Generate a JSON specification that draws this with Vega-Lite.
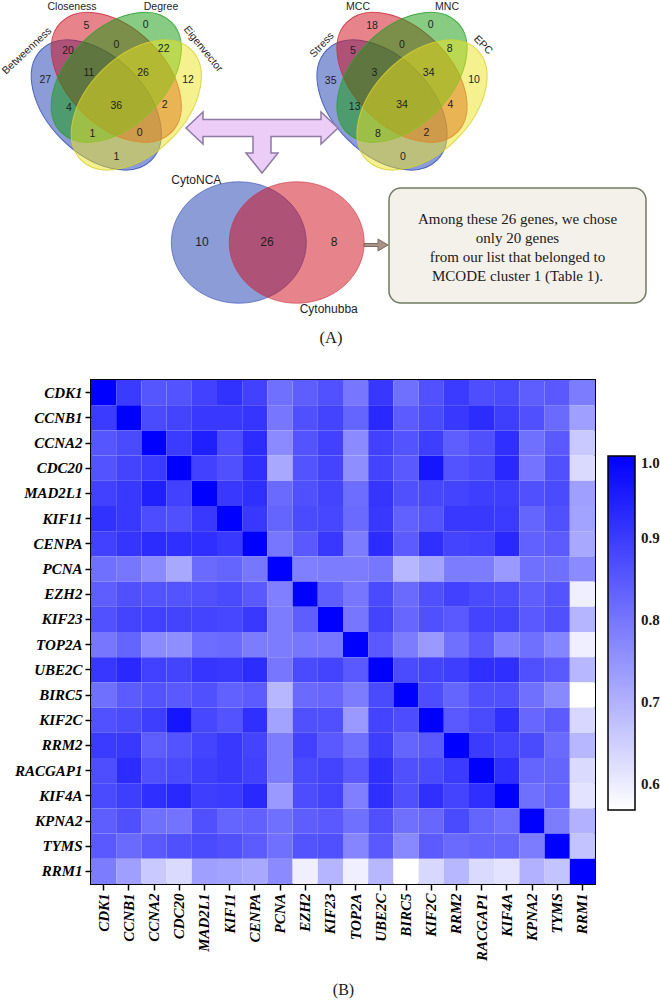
{
  "$schema": "https://vega.github.io/schema/vega-lite/v6.json",
  "padding": 0,
  "spacing": 29,
  "background": "white",
  "config": {"font": "Liberation Sans"},
  "vconcat": [
    {
      "width": 572,
      "height": 350,
      "view": {"stroke": null},
      "layer": [
        {
          "data": {"values": [
            {"diagram": "CytoNCA", "set": "Betweenness", "x": 93.3, "y": 105},
            {"diagram": "CytoNCA", "set": "Closeness", "x": 113.3, "y": 77.3},
            {"diagram": "Cytohubba", "set": "Stress", "x": 379, "y": 105},
            {"diagram": "Cytohubba", "set": "MCC", "x": 399, "y": 77.3}
          ]},
          "mark": {"type": "point", "shape": "M 1 0 C 1 0.3446 0.5523 0.624 0 0.624 C -0.5523 0.624 -1 0.3446 -1 0 C -1 -0.3446 -0.5523 -0.624 0 -0.624 C 0.5523 -0.624 1 -0.3446 1 0 Z", "size": 24336, "angle": 45, "filled": true, "opacity": 1, "fillOpacity": 0.5, "strokeWidth": 1, "strokeOpacity": 0.85},
          "encoding": {
            "x": {"field": "x", "type": "quantitative", "scale": {"domain": [88, 660], "nice": false, "zero": false}, "axis": null},
            "y": {"field": "y", "type": "quantitative", "scale": {"domain": [0, 350], "nice": false, "zero": false, "reverse": true}, "axis": null},
            "color": {"field": "set", "type": "nominal", "scale": {"domain": ["Betweenness", "Closeness", "Degree", "Eigenvector", "Stress", "MCC", "MNC", "EPC", "CytoNCA", "Cytohubba"], "range": ["#1a3aae", "#cf0a18", "#12990a", "#ece41e", "#1a3aae", "#cf0a18", "#12990a", "#ece41e", "#1a3aae", "#cf0a18"]}, "legend": null},
            "stroke": {"field": "set", "type": "nominal", "scale": {"domain": ["Betweenness", "Closeness", "Degree", "Eigenvector", "Stress", "MCC", "MNC", "EPC", "CytoNCA", "Cytohubba"], "range": ["#3550bb", "#cc3040", "#30a030", "#d8d030", "#3550bb", "#cc3040", "#30a030", "#d8d030", "#3550bb", "#cc3040"]}, "legend": null}
          }
        },
        {
          "data": {"values": [
            {"diagram": "CytoNCA", "set": "Degree", "x": 113.3, "y": 77.3},
            {"diagram": "CytoNCA", "set": "Eigenvector", "x": 133.3, "y": 105},
            {"diagram": "Cytohubba", "set": "MNC", "x": 399, "y": 77.3},
            {"diagram": "Cytohubba", "set": "EPC", "x": 419, "y": 105}
          ]},
          "mark": {"type": "point", "shape": "M 1 0 C 1 0.3446 0.5523 0.624 0 0.624 C -0.5523 0.624 -1 0.3446 -1 0 C -1 -0.3446 -0.5523 -0.624 0 -0.624 C 0.5523 -0.624 1 -0.3446 1 0 Z", "size": 24336, "angle": -45, "filled": true, "opacity": 1, "fillOpacity": 0.5, "strokeWidth": 1, "strokeOpacity": 0.85},
          "encoding": {
            "x": {"field": "x", "type": "quantitative", "scale": {"domain": [88, 660], "nice": false, "zero": false}, "axis": null},
            "y": {"field": "y", "type": "quantitative", "scale": {"domain": [0, 350], "nice": false, "zero": false, "reverse": true}, "axis": null},
            "color": {"field": "set", "type": "nominal", "scale": {"domain": ["Betweenness", "Closeness", "Degree", "Eigenvector", "Stress", "MCC", "MNC", "EPC", "CytoNCA", "Cytohubba"], "range": ["#1a3aae", "#cf0a18", "#12990a", "#ece41e", "#1a3aae", "#cf0a18", "#12990a", "#ece41e", "#1a3aae", "#cf0a18"]}, "legend": null},
            "stroke": {"field": "set", "type": "nominal", "scale": {"domain": ["Betweenness", "Closeness", "Degree", "Eigenvector", "Stress", "MCC", "MNC", "EPC", "CytoNCA", "Cytohubba"], "range": ["#3550bb", "#cc3040", "#30a030", "#d8d030", "#3550bb", "#cc3040", "#30a030", "#d8d030", "#3550bb", "#cc3040"]}, "legend": null}
          }
        },
        {
          "data": {"values": [
            {"set": "CytoNCA", "x": 235.8, "y": 242.5},
            {"set": "Cytohubba", "x": 293.7, "y": 242.5}
          ]},
          "mark": {"type": "point", "shape": "M 1 0 C 1 0.497 0.5523 0.9 0 0.9 C -0.5523 0.9 -1 0.497 -1 0 C -1 -0.497 -0.5523 -0.9 0 -0.9 C 0.5523 -0.9 1 -0.497 1 0 Z", "size": 18225, "filled": true, "opacity": 1, "fillOpacity": 0.5, "strokeWidth": 1, "strokeOpacity": 0.6},
          "encoding": {
            "x": {"field": "x", "type": "quantitative", "scale": {"domain": [88, 660], "nice": false, "zero": false}, "axis": null},
            "y": {"field": "y", "type": "quantitative", "scale": {"domain": [0, 350], "nice": false, "zero": false, "reverse": true}, "axis": null},
            "color": {"field": "set", "type": "nominal", "scale": {"domain": ["Betweenness", "Closeness", "Degree", "Eigenvector", "Stress", "MCC", "MNC", "EPC", "CytoNCA", "Cytohubba"], "range": ["#1a3aae", "#cf0a18", "#12990a", "#ece41e", "#1a3aae", "#cf0a18", "#12990a", "#ece41e", "#1a3aae", "#cf0a18"]}, "legend": null},
            "stroke": {"field": "set", "type": "nominal", "scale": {"domain": ["Betweenness", "Closeness", "Degree", "Eigenvector", "Stress", "MCC", "MNC", "EPC", "CytoNCA", "Cytohubba"], "range": ["#3550bb", "#cc3040", "#30a030", "#d8d030", "#3550bb", "#cc3040", "#30a030", "#d8d030", "#3550bb", "#cc3040"]}, "legend": null}
          }
        },
        {
          "data": {"values": [
            {"region": "Betweenness only", "x": 42.3, "y": 80, "count": 27},
            {"region": "Closeness only", "x": 83.3, "y": 26, "count": 5},
            {"region": "Degree only", "x": 142.7, "y": 25, "count": 0},
            {"region": "Eigenvector only", "x": 185, "y": 80, "count": 12},
            {"region": "Betweenness+Closeness", "x": 65, "y": 50.7, "count": 20},
            {"region": "Closeness+Degree", "x": 113.3, "y": 45, "count": 0},
            {"region": "Degree+Eigenvector", "x": 160.7, "y": 49.3, "count": 22},
            {"region": "Betweenness+Closeness+Degree", "x": 86, "y": 72.7, "count": 11},
            {"region": "Closeness+Degree+Eigenvector", "x": 140, "y": 73.3, "count": 26},
            {"region": "Betweenness+Degree", "x": 66, "y": 108.3, "count": 4},
            {"region": "All four", "x": 113.3, "y": 106, "count": 36},
            {"region": "Closeness+Eigenvector", "x": 161.7, "y": 105, "count": 2},
            {"region": "Betweenness+Degree+Eigenvector", "x": 89.3, "y": 134.3, "count": 1},
            {"region": "Betweenness+Closeness+Eigenvector", "x": 136.7, "y": 133.3, "count": 0},
            {"region": "Betweenness+Eigenvector", "x": 113.3, "y": 156.7, "count": 1},
            {"region": "Stress only", "x": 327.7, "y": 80.7, "count": 35},
            {"region": "MCC only", "x": 369, "y": 26, "count": 18},
            {"region": "MNC only", "x": 427.7, "y": 25, "count": 0},
            {"region": "EPC only", "x": 471, "y": 80, "count": 10},
            {"region": "Stress+MCC", "x": 350, "y": 50.7, "count": 5},
            {"region": "MCC+MNC", "x": 399, "y": 45, "count": 0},
            {"region": "MNC+EPC", "x": 446.7, "y": 49.3, "count": 8},
            {"region": "Stress+MCC+MNC", "x": 371.3, "y": 72.7, "count": 3},
            {"region": "MCC+MNC+EPC", "x": 425.7, "y": 73.3, "count": 34},
            {"region": "Stress+MNC", "x": 351.7, "y": 106.7, "count": 13},
            {"region": "All four (Cytohubba)", "x": 399, "y": 105.3, "count": 34},
            {"region": "MCC+EPC", "x": 447.3, "y": 105, "count": 4},
            {"region": "Stress+MNC+EPC", "x": 375, "y": 134.3, "count": 8},
            {"region": "Stress+MCC+EPC", "x": 423.3, "y": 133.3, "count": 2},
            {"region": "Stress+EPC", "x": 400, "y": 157.3, "count": 0}
          ]},
          "mark": {"type": "text", "fontSize": 10.5, "color": "#1e1e1e", "baseline": "middle", "align": "center"},
          "encoding": {
            "x": {"field": "x", "type": "quantitative", "scale": {"domain": [88, 660], "nice": false, "zero": false}, "axis": null},
            "y": {"field": "y", "type": "quantitative", "scale": {"domain": [0, 350], "nice": false, "zero": false, "reverse": true}, "axis": null},
            "text": {"field": "count", "type": "quantitative"}
          }
        },
        {
          "data": {"values": [
            {"region": "CytoNCA only", "x": 199, "y": 242, "count": 10},
            {"region": "Both", "x": 264, "y": 242, "count": 26},
            {"region": "Cytohubba only", "x": 331, "y": 242, "count": 8}
          ]},
          "mark": {"type": "text", "fontSize": 12, "color": "#1e1e1e", "baseline": "middle", "align": "center"},
          "encoding": {
            "x": {"field": "x", "type": "quantitative", "scale": {"domain": [88, 660], "nice": false, "zero": false}, "axis": null},
            "y": {"field": "y", "type": "quantitative", "scale": {"domain": [0, 350], "nice": false, "zero": false, "reverse": true}, "axis": null},
            "text": {"field": "count", "type": "quantitative"}
          }
        },
        {
          "data": {"values": [
            {"label": "Closeness", "x": 69, "y": 6.5},
            {"label": "Degree", "x": 158, "y": 6.5},
            {"label": "MCC", "x": 355, "y": 6.5},
            {"label": "MNC", "x": 444, "y": 6.5}
          ]},
          "mark": {"type": "text", "fontSize": 10.5, "color": "#1e1e1e", "baseline": "middle", "align": "center"},
          "encoding": {
            "x": {"field": "x", "type": "quantitative", "scale": {"domain": [88, 660], "nice": false, "zero": false}, "axis": null},
            "y": {"field": "y", "type": "quantitative", "scale": {"domain": [0, 350], "nice": false, "zero": false, "reverse": true}, "axis": null},
            "text": {"field": "label", "type": "nominal"}
          }
        },
        {
          "data": {"values": [
            {"label": "CytoNCA", "x": 193.3, "y": 180},
            {"label": "Cytohubba", "x": 325.7, "y": 309.3}
          ]},
          "mark": {"type": "text", "fontSize": 12, "color": "#1e1e1e", "baseline": "middle", "align": "center"},
          "encoding": {
            "x": {"field": "x", "type": "quantitative", "scale": {"domain": [88, 660], "nice": false, "zero": false}, "axis": null},
            "y": {"field": "y", "type": "quantitative", "scale": {"domain": [0, 350], "nice": false, "zero": false, "reverse": true}, "axis": null},
            "text": {"field": "label", "type": "nominal"}
          }
        },
        {
          "data": {"values": [{"label": "Betweenness", "x": 24, "y": 51}]},
          "mark": {"type": "text", "fontSize": 10.5, "color": "#1e1e1e", "baseline": "middle", "align": "center", "angle": -43},
          "encoding": {
            "x": {"field": "x", "type": "quantitative", "scale": {"domain": [88, 660], "nice": false, "zero": false}, "axis": null},
            "y": {"field": "y", "type": "quantitative", "scale": {"domain": [0, 350], "nice": false, "zero": false, "reverse": true}, "axis": null},
            "text": {"field": "label", "type": "nominal"}
          }
        },
        {
          "data": {"values": [{"label": "Eigenvector", "x": 200, "y": 49}]},
          "mark": {"type": "text", "fontSize": 10.5, "color": "#1e1e1e", "baseline": "middle", "align": "center", "angle": 51},
          "encoding": {
            "x": {"field": "x", "type": "quantitative", "scale": {"domain": [88, 660], "nice": false, "zero": false}, "axis": null},
            "y": {"field": "y", "type": "quantitative", "scale": {"domain": [0, 350], "nice": false, "zero": false, "reverse": true}, "axis": null},
            "text": {"field": "label", "type": "nominal"}
          }
        },
        {
          "data": {"values": [{"label": "Stress", "x": 319, "y": 45}]},
          "mark": {"type": "text", "fontSize": 10.5, "color": "#1e1e1e", "baseline": "middle", "align": "center", "angle": -47},
          "encoding": {
            "x": {"field": "x", "type": "quantitative", "scale": {"domain": [88, 660], "nice": false, "zero": false}, "axis": null},
            "y": {"field": "y", "type": "quantitative", "scale": {"domain": [0, 350], "nice": false, "zero": false, "reverse": true}, "axis": null},
            "text": {"field": "label", "type": "nominal"}
          }
        },
        {
          "data": {"values": [{"label": "EPC", "x": 480, "y": 45}]},
          "mark": {"type": "text", "fontSize": 10.5, "color": "#1e1e1e", "baseline": "middle", "align": "center", "angle": 45},
          "encoding": {
            "x": {"field": "x", "type": "quantitative", "scale": {"domain": [88, 660], "nice": false, "zero": false}, "axis": null},
            "y": {"field": "y", "type": "quantitative", "scale": {"domain": [0, 350], "nice": false, "zero": false, "reverse": true}, "axis": null},
            "text": {"field": "label", "type": "nominal"}
          }
        },
        {
          "data": {"values": [{"item": "merge arrow"}]},
          "mark": {"type": "point", "shape": "M -76 0 L -59 -16 L -59 -8.5 L 59 -8.5 L 59 -16 L 76 0 L 59 16 L 59 8.5 L 9 8.5 L 9 25 L 16 25 L 0 45 L -16 25 L -9 25 L -9 8.5 L -59 8.5 L -59 16 Z", "size": 4, "filled": true, "opacity": 1, "fill": "#ebcdf7", "stroke": "#8e7aa3", "strokeWidth": 1.5},
          "encoding": {
            "x": {"datum": 259, "type": "quantitative", "scale": {"domain": [88, 660], "nice": false, "zero": false}, "axis": null},
            "y": {"datum": 128, "type": "quantitative", "scale": {"domain": [0, 350], "nice": false, "zero": false, "reverse": true}, "axis": null}
          }
        },
        {
          "data": {"values": [{"item": "box arrow"}]},
          "mark": {"type": "point", "shape": "M -12 -1.5 L 2 -1.5 L 2 -6 L 12 0 L 2 6 L 2 1.5 L -12 1.5 Z", "size": 4, "filled": true, "opacity": 1, "fill": "#a8928a", "stroke": "#7d6a62", "strokeWidth": 1},
          "encoding": {
            "x": {"datum": 373, "type": "quantitative", "scale": {"domain": [88, 660], "nice": false, "zero": false}, "axis": null},
            "y": {"datum": 245, "type": "quantitative", "scale": {"domain": [0, 350], "nice": false, "zero": false, "reverse": true}, "axis": null}
          }
        },
        {
          "data": {"values": [{"item": "note box"}]},
          "mark": {"type": "rect", "cornerRadius": 12, "fill": "#f4f0ea", "stroke": "#6f7b62", "strokeWidth": 1.5},
          "encoding": {
            "x": {"datum": 386, "type": "quantitative", "scale": {"domain": [88, 660], "nice": false, "zero": false}, "axis": null},
            "x2": {"datum": 643},
            "y": {"datum": 188, "type": "quantitative", "scale": {"domain": [0, 350], "nice": false, "zero": false, "reverse": true}, "axis": null},
            "y2": {"datum": 303}
          }
        },
        {
          "data": {"values": [{"item": "note text"}]},
          "mark": {"type": "text", "text": ["Among these 26 genes, we chose", "only 20 genes", "from our list that belonged to", "MCODE cluster 1 (Table 1)."], "font": "Liberation Serif", "fontSize": 15, "lineHeight": 19, "color": "#1a1a1a", "align": "center", "baseline": "middle"},
          "encoding": {
            "x": {"datum": 514.5, "type": "quantitative", "scale": {"domain": [88, 660], "nice": false, "zero": false}, "axis": null},
            "y": {"datum": 219, "type": "quantitative", "scale": {"domain": [0, 350], "nice": false, "zero": false, "reverse": true}, "axis": null}
          }
        },
        {
          "data": {"values": [{"item": "panel label"}]},
          "mark": {"type": "text", "text": "(A)", "font": "Liberation Serif", "fontSize": 16.5, "color": "#1a1a1a", "align": "center", "baseline": "middle"},
          "encoding": {
            "x": {"datum": 328, "type": "quantitative", "scale": {"domain": [88, 660], "nice": false, "zero": false}, "axis": null},
            "y": {"datum": 338, "type": "quantitative", "scale": {"domain": [0, 350], "nice": false, "zero": false, "reverse": true}, "axis": null}
          }
        }
      ]
    },
    {
      "width": 504,
      "height": 504,
      "view": {"stroke": "black", "strokeWidth": 2},
      "data": {"values": [
{"a":"CDK1","b":"CDK1","v":1},{"a":"CDK1","b":"CCNB1","v":0.90},{"a":"CDK1","b":"CCNA2","v":0.855},{"a":"CDK1","b":"CDC20","v":0.86},{"a":"CDK1","b":"MAD2L1","v":0.89},{"a":"CDK1","b":"KIF11","v":0.915},{"a":"CDK1","b":"CENPA","v":0.89},{"a":"CDK1","b":"PCNA","v":0.81},{"a":"CDK1","b":"EZH2","v":0.84},{"a":"CDK1","b":"KIF23","v":0.862},{"a":"CDK1","b":"TOP2A","v":0.80},{"a":"CDK1","b":"UBE2C","v":0.907},{"a":"CDK1","b":"BIRC5","v":0.81},{"a":"CDK1","b":"KIF2C","v":0.862},{"a":"CDK1","b":"RRM2","v":0.90},{"a":"CDK1","b":"RACGAP1","v":0.868},{"a":"CDK1","b":"KIF4A","v":0.875},{"a":"CDK1","b":"KPNA2","v":0.84},{"a":"CDK1","b":"TYMS","v":0.85},{"a":"CDK1","b":"RRM1","v":0.79},
{"a":"CCNB1","b":"CDK1","v":0.90},{"a":"CCNB1","b":"CCNB1","v":1},{"a":"CCNB1","b":"CCNA2","v":0.875},{"a":"CCNB1","b":"CDC20","v":0.885},{"a":"CCNB1","b":"MAD2L1","v":0.905},{"a":"CCNB1","b":"KIF11","v":0.905},{"a":"CCNB1","b":"CENPA","v":0.91},{"a":"CCNB1","b":"PCNA","v":0.80},{"a":"CCNB1","b":"EZH2","v":0.865},{"a":"CCNB1","b":"KIF23","v":0.885},{"a":"CCNB1","b":"TOP2A","v":0.83},{"a":"CCNB1","b":"UBE2C","v":0.93},{"a":"CCNB1","b":"BIRC5","v":0.845},{"a":"CCNB1","b":"KIF2C","v":0.875},{"a":"CCNB1","b":"RRM2","v":0.905},{"a":"CCNB1","b":"RACGAP1","v":0.925},{"a":"CCNB1","b":"KIF4A","v":0.895},{"a":"CCNB1","b":"KPNA2","v":0.865},{"a":"CCNB1","b":"TYMS","v":0.82},{"a":"CCNB1","b":"RRM1","v":0.73},
{"a":"CCNA2","b":"CDK1","v":0.855},{"a":"CCNA2","b":"CCNB1","v":0.875},{"a":"CCNA2","b":"CCNA2","v":1},{"a":"CCNA2","b":"CDC20","v":0.90},{"a":"CCNA2","b":"MAD2L1","v":0.945},{"a":"CCNA2","b":"KIF11","v":0.87},{"a":"CCNA2","b":"CENPA","v":0.925},{"a":"CCNA2","b":"PCNA","v":0.765},{"a":"CCNA2","b":"EZH2","v":0.86},{"a":"CCNA2","b":"KIF23","v":0.89},{"a":"CCNA2","b":"TOP2A","v":0.765},{"a":"CCNA2","b":"UBE2C","v":0.89},{"a":"CCNA2","b":"BIRC5","v":0.86},{"a":"CCNA2","b":"KIF2C","v":0.895},{"a":"CCNA2","b":"RRM2","v":0.84},{"a":"CCNA2","b":"RACGAP1","v":0.865},{"a":"CCNA2","b":"KIF4A","v":0.92},{"a":"CCNA2","b":"KPNA2","v":0.81},{"a":"CCNA2","b":"TYMS","v":0.85},{"a":"CCNA2","b":"RRM1","v":0.66},
{"a":"CDC20","b":"CDK1","v":0.86},{"a":"CDC20","b":"CCNB1","v":0.885},{"a":"CDC20","b":"CCNA2","v":0.90},{"a":"CDC20","b":"CDC20","v":1},{"a":"CDC20","b":"MAD2L1","v":0.89},{"a":"CDC20","b":"KIF11","v":0.865},{"a":"CDC20","b":"CENPA","v":0.92},{"a":"CDC20","b":"PCNA","v":0.715},{"a":"CDC20","b":"EZH2","v":0.86},{"a":"CDC20","b":"KIF23","v":0.885},{"a":"CDC20","b":"TOP2A","v":0.76},{"a":"CDC20","b":"UBE2C","v":0.885},{"a":"CDC20","b":"BIRC5","v":0.85},{"a":"CDC20","b":"KIF2C","v":0.965},{"a":"CDC20","b":"RRM2","v":0.86},{"a":"CDC20","b":"RACGAP1","v":0.875},{"a":"CDC20","b":"KIF4A","v":0.93},{"a":"CDC20","b":"KPNA2","v":0.805},{"a":"CDC20","b":"TYMS","v":0.865},{"a":"CDC20","b":"RRM1","v":0.63},
{"a":"MAD2L1","b":"CDK1","v":0.89},{"a":"MAD2L1","b":"CCNB1","v":0.905},{"a":"MAD2L1","b":"CCNA2","v":0.945},{"a":"MAD2L1","b":"CDC20","v":0.89},{"a":"MAD2L1","b":"MAD2L1","v":1},{"a":"MAD2L1","b":"KIF11","v":0.905},{"a":"MAD2L1","b":"CENPA","v":0.92},{"a":"MAD2L1","b":"PCNA","v":0.82},{"a":"MAD2L1","b":"EZH2","v":0.865},{"a":"MAD2L1","b":"KIF23","v":0.885},{"a":"MAD2L1","b":"TOP2A","v":0.815},{"a":"MAD2L1","b":"UBE2C","v":0.91},{"a":"MAD2L1","b":"BIRC5","v":0.865},{"a":"MAD2L1","b":"KIF2C","v":0.88},{"a":"MAD2L1","b":"RRM2","v":0.885},{"a":"MAD2L1","b":"RACGAP1","v":0.895},{"a":"MAD2L1","b":"KIF4A","v":0.895},{"a":"MAD2L1","b":"KPNA2","v":0.865},{"a":"MAD2L1","b":"TYMS","v":0.875},{"a":"MAD2L1","b":"RRM1","v":0.73},
{"a":"KIF11","b":"CDK1","v":0.915},{"a":"KIF11","b":"CCNB1","v":0.905},{"a":"KIF11","b":"CCNA2","v":0.87},{"a":"KIF11","b":"CDC20","v":0.865},{"a":"KIF11","b":"MAD2L1","v":0.905},{"a":"KIF11","b":"KIF11","v":1},{"a":"KIF11","b":"CENPA","v":0.905},{"a":"KIF11","b":"PCNA","v":0.83},{"a":"KIF11","b":"EZH2","v":0.875},{"a":"KIF11","b":"KIF23","v":0.88},{"a":"KIF11","b":"TOP2A","v":0.82},{"a":"KIF11","b":"UBE2C","v":0.905},{"a":"KIF11","b":"BIRC5","v":0.835},{"a":"KIF11","b":"KIF2C","v":0.86},{"a":"KIF11","b":"RRM2","v":0.905},{"a":"KIF11","b":"RACGAP1","v":0.905},{"a":"KIF11","b":"KIF4A","v":0.90},{"a":"KIF11","b":"KPNA2","v":0.83},{"a":"KIF11","b":"TYMS","v":0.865},{"a":"KIF11","b":"RRM1","v":0.725},
{"a":"CENPA","b":"CDK1","v":0.89},{"a":"CENPA","b":"CCNB1","v":0.91},{"a":"CENPA","b":"CCNA2","v":0.925},{"a":"CENPA","b":"CDC20","v":0.92},{"a":"CENPA","b":"MAD2L1","v":0.92},{"a":"CENPA","b":"KIF11","v":0.905},{"a":"CENPA","b":"CENPA","v":1},{"a":"CENPA","b":"PCNA","v":0.80},{"a":"CENPA","b":"EZH2","v":0.85},{"a":"CENPA","b":"KIF23","v":0.905},{"a":"CENPA","b":"TOP2A","v":0.79},{"a":"CENPA","b":"UBE2C","v":0.925},{"a":"CENPA","b":"BIRC5","v":0.845},{"a":"CENPA","b":"KIF2C","v":0.92},{"a":"CENPA","b":"RRM2","v":0.885},{"a":"CENPA","b":"RACGAP1","v":0.89},{"a":"CENPA","b":"KIF4A","v":0.93},{"a":"CENPA","b":"KPNA2","v":0.835},{"a":"CENPA","b":"TYMS","v":0.845},{"a":"CENPA","b":"RRM1","v":0.715},
{"a":"PCNA","b":"CDK1","v":0.81},{"a":"PCNA","b":"CCNB1","v":0.80},{"a":"PCNA","b":"CCNA2","v":0.765},{"a":"PCNA","b":"CDC20","v":0.715},{"a":"PCNA","b":"MAD2L1","v":0.82},{"a":"PCNA","b":"KIF11","v":0.83},{"a":"PCNA","b":"CENPA","v":0.80},{"a":"PCNA","b":"PCNA","v":1},{"a":"PCNA","b":"EZH2","v":0.785},{"a":"PCNA","b":"KIF23","v":0.79},{"a":"PCNA","b":"TOP2A","v":0.79},{"a":"PCNA","b":"UBE2C","v":0.80},{"a":"PCNA","b":"BIRC5","v":0.69},{"a":"PCNA","b":"KIF2C","v":0.725},{"a":"PCNA","b":"RRM2","v":0.79},{"a":"PCNA","b":"RACGAP1","v":0.79},{"a":"PCNA","b":"KIF4A","v":0.74},{"a":"PCNA","b":"KPNA2","v":0.81},{"a":"PCNA","b":"TYMS","v":0.81},{"a":"PCNA","b":"RRM1","v":0.765},
{"a":"EZH2","b":"CDK1","v":0.84},{"a":"EZH2","b":"CCNB1","v":0.865},{"a":"EZH2","b":"CCNA2","v":0.86},{"a":"EZH2","b":"CDC20","v":0.86},{"a":"EZH2","b":"MAD2L1","v":0.865},{"a":"EZH2","b":"KIF11","v":0.875},{"a":"EZH2","b":"CENPA","v":0.85},{"a":"EZH2","b":"PCNA","v":0.785},{"a":"EZH2","b":"EZH2","v":1},{"a":"EZH2","b":"KIF23","v":0.84},{"a":"EZH2","b":"TOP2A","v":0.80},{"a":"EZH2","b":"UBE2C","v":0.875},{"a":"EZH2","b":"BIRC5","v":0.82},{"a":"EZH2","b":"KIF2C","v":0.865},{"a":"EZH2","b":"RRM2","v":0.89},{"a":"EZH2","b":"RACGAP1","v":0.875},{"a":"EZH2","b":"KIF4A","v":0.87},{"a":"EZH2","b":"KPNA2","v":0.84},{"a":"EZH2","b":"TYMS","v":0.86},{"a":"EZH2","b":"RRM1","v":0.595},
{"a":"KIF23","b":"CDK1","v":0.862},{"a":"KIF23","b":"CCNB1","v":0.885},{"a":"KIF23","b":"CCNA2","v":0.89},{"a":"KIF23","b":"CDC20","v":0.885},{"a":"KIF23","b":"MAD2L1","v":0.885},{"a":"KIF23","b":"KIF11","v":0.88},{"a":"KIF23","b":"CENPA","v":0.905},{"a":"KIF23","b":"PCNA","v":0.79},{"a":"KIF23","b":"EZH2","v":0.84},{"a":"KIF23","b":"KIF23","v":1},{"a":"KIF23","b":"TOP2A","v":0.80},{"a":"KIF23","b":"UBE2C","v":0.885},{"a":"KIF23","b":"BIRC5","v":0.825},{"a":"KIF23","b":"KIF2C","v":0.865},{"a":"KIF23","b":"RRM2","v":0.85},{"a":"KIF23","b":"RACGAP1","v":0.885},{"a":"KIF23","b":"KIF4A","v":0.885},{"a":"KIF23","b":"KPNA2","v":0.85},{"a":"KIF23","b":"TYMS","v":0.865},{"a":"KIF23","b":"RRM1","v":0.695},
{"a":"TOP2A","b":"CDK1","v":0.80},{"a":"TOP2A","b":"CCNB1","v":0.83},{"a":"TOP2A","b":"CCNA2","v":0.765},{"a":"TOP2A","b":"CDC20","v":0.76},{"a":"TOP2A","b":"MAD2L1","v":0.815},{"a":"TOP2A","b":"KIF11","v":0.82},{"a":"TOP2A","b":"CENPA","v":0.79},{"a":"TOP2A","b":"PCNA","v":0.79},{"a":"TOP2A","b":"EZH2","v":0.80},{"a":"TOP2A","b":"KIF23","v":0.80},{"a":"TOP2A","b":"TOP2A","v":1},{"a":"TOP2A","b":"UBE2C","v":0.85},{"a":"TOP2A","b":"BIRC5","v":0.79},{"a":"TOP2A","b":"KIF2C","v":0.74},{"a":"TOP2A","b":"RRM2","v":0.81},{"a":"TOP2A","b":"RACGAP1","v":0.85},{"a":"TOP2A","b":"KIF4A","v":0.785},{"a":"TOP2A","b":"KPNA2","v":0.81},{"a":"TOP2A","b":"TYMS","v":0.775},{"a":"TOP2A","b":"RRM1","v":0.595},
{"a":"UBE2C","b":"CDK1","v":0.907},{"a":"UBE2C","b":"CCNB1","v":0.93},{"a":"UBE2C","b":"CCNA2","v":0.89},{"a":"UBE2C","b":"CDC20","v":0.885},{"a":"UBE2C","b":"MAD2L1","v":0.91},{"a":"UBE2C","b":"KIF11","v":0.905},{"a":"UBE2C","b":"CENPA","v":0.925},{"a":"UBE2C","b":"PCNA","v":0.80},{"a":"UBE2C","b":"EZH2","v":0.875},{"a":"UBE2C","b":"KIF23","v":0.885},{"a":"UBE2C","b":"TOP2A","v":0.85},{"a":"UBE2C","b":"UBE2C","v":1},{"a":"UBE2C","b":"BIRC5","v":0.875},{"a":"UBE2C","b":"KIF2C","v":0.885},{"a":"UBE2C","b":"RRM2","v":0.895},{"a":"UBE2C","b":"RACGAP1","v":0.92},{"a":"UBE2C","b":"KIF4A","v":0.92},{"a":"UBE2C","b":"KPNA2","v":0.865},{"a":"UBE2C","b":"TYMS","v":0.85},{"a":"UBE2C","b":"RRM1","v":0.69},
{"a":"BIRC5","b":"CDK1","v":0.81},{"a":"BIRC5","b":"CCNB1","v":0.845},{"a":"BIRC5","b":"CCNA2","v":0.86},{"a":"BIRC5","b":"CDC20","v":0.85},{"a":"BIRC5","b":"MAD2L1","v":0.865},{"a":"BIRC5","b":"KIF11","v":0.835},{"a":"BIRC5","b":"CENPA","v":0.845},{"a":"BIRC5","b":"PCNA","v":0.69},{"a":"BIRC5","b":"EZH2","v":0.82},{"a":"BIRC5","b":"KIF23","v":0.825},{"a":"BIRC5","b":"TOP2A","v":0.79},{"a":"BIRC5","b":"UBE2C","v":0.875},{"a":"BIRC5","b":"BIRC5","v":1},{"a":"BIRC5","b":"KIF2C","v":0.87},{"a":"BIRC5","b":"RRM2","v":0.83},{"a":"BIRC5","b":"RACGAP1","v":0.865},{"a":"BIRC5","b":"KIF4A","v":0.865},{"a":"BIRC5","b":"KPNA2","v":0.81},{"a":"BIRC5","b":"TYMS","v":0.77},{"a":"BIRC5","b":"RRM1","v":0.568},
{"a":"KIF2C","b":"CDK1","v":0.862},{"a":"KIF2C","b":"CCNB1","v":0.875},{"a":"KIF2C","b":"CCNA2","v":0.895},{"a":"KIF2C","b":"CDC20","v":0.965},{"a":"KIF2C","b":"MAD2L1","v":0.88},{"a":"KIF2C","b":"KIF11","v":0.86},{"a":"KIF2C","b":"CENPA","v":0.92},{"a":"KIF2C","b":"PCNA","v":0.725},{"a":"KIF2C","b":"EZH2","v":0.865},{"a":"KIF2C","b":"KIF23","v":0.865},{"a":"KIF2C","b":"TOP2A","v":0.74},{"a":"KIF2C","b":"UBE2C","v":0.885},{"a":"KIF2C","b":"BIRC5","v":0.87},{"a":"KIF2C","b":"KIF2C","v":1},{"a":"KIF2C","b":"RRM2","v":0.85},{"a":"KIF2C","b":"RACGAP1","v":0.875},{"a":"KIF2C","b":"KIF4A","v":0.92},{"a":"KIF2C","b":"KPNA2","v":0.825},{"a":"KIF2C","b":"TYMS","v":0.845},{"a":"KIF2C","b":"RRM1","v":0.635},
{"a":"RRM2","b":"CDK1","v":0.90},{"a":"RRM2","b":"CCNB1","v":0.905},{"a":"RRM2","b":"CCNA2","v":0.84},{"a":"RRM2","b":"CDC20","v":0.86},{"a":"RRM2","b":"MAD2L1","v":0.885},{"a":"RRM2","b":"KIF11","v":0.905},{"a":"RRM2","b":"CENPA","v":0.885},{"a":"RRM2","b":"PCNA","v":0.79},{"a":"RRM2","b":"EZH2","v":0.89},{"a":"RRM2","b":"KIF23","v":0.85},{"a":"RRM2","b":"TOP2A","v":0.81},{"a":"RRM2","b":"UBE2C","v":0.895},{"a":"RRM2","b":"BIRC5","v":0.83},{"a":"RRM2","b":"KIF2C","v":0.85},{"a":"RRM2","b":"RRM2","v":1},{"a":"RRM2","b":"RACGAP1","v":0.90},{"a":"RRM2","b":"KIF4A","v":0.885},{"a":"RRM2","b":"KPNA2","v":0.875},{"a":"RRM2","b":"TYMS","v":0.82},{"a":"RRM2","b":"RRM1","v":0.69},
{"a":"RACGAP1","b":"CDK1","v":0.868},{"a":"RACGAP1","b":"CCNB1","v":0.925},{"a":"RACGAP1","b":"CCNA2","v":0.865},{"a":"RACGAP1","b":"CDC20","v":0.875},{"a":"RACGAP1","b":"MAD2L1","v":0.895},{"a":"RACGAP1","b":"KIF11","v":0.905},{"a":"RACGAP1","b":"CENPA","v":0.89},{"a":"RACGAP1","b":"PCNA","v":0.79},{"a":"RACGAP1","b":"EZH2","v":0.875},{"a":"RACGAP1","b":"KIF23","v":0.885},{"a":"RACGAP1","b":"TOP2A","v":0.85},{"a":"RACGAP1","b":"UBE2C","v":0.92},{"a":"RACGAP1","b":"BIRC5","v":0.865},{"a":"RACGAP1","b":"KIF2C","v":0.875},{"a":"RACGAP1","b":"RRM2","v":0.90},{"a":"RACGAP1","b":"RACGAP1","v":1},{"a":"RACGAP1","b":"KIF4A","v":0.92},{"a":"RACGAP1","b":"KPNA2","v":0.83},{"a":"RACGAP1","b":"TYMS","v":0.83},{"a":"RACGAP1","b":"RRM1","v":0.63},
{"a":"KIF4A","b":"CDK1","v":0.875},{"a":"KIF4A","b":"CCNB1","v":0.895},{"a":"KIF4A","b":"CCNA2","v":0.92},{"a":"KIF4A","b":"CDC20","v":0.93},{"a":"KIF4A","b":"MAD2L1","v":0.895},{"a":"KIF4A","b":"KIF11","v":0.90},{"a":"KIF4A","b":"CENPA","v":0.93},{"a":"KIF4A","b":"PCNA","v":0.74},{"a":"KIF4A","b":"EZH2","v":0.87},{"a":"KIF4A","b":"KIF23","v":0.885},{"a":"KIF4A","b":"TOP2A","v":0.785},{"a":"KIF4A","b":"UBE2C","v":0.92},{"a":"KIF4A","b":"BIRC5","v":0.865},{"a":"KIF4A","b":"KIF2C","v":0.92},{"a":"KIF4A","b":"RRM2","v":0.885},{"a":"KIF4A","b":"RACGAP1","v":0.92},{"a":"KIF4A","b":"KIF4A","v":1},{"a":"KIF4A","b":"KPNA2","v":0.81},{"a":"KIF4A","b":"TYMS","v":0.83},{"a":"KIF4A","b":"RRM1","v":0.615},
{"a":"KPNA2","b":"CDK1","v":0.84},{"a":"KPNA2","b":"CCNB1","v":0.865},{"a":"KPNA2","b":"CCNA2","v":0.81},{"a":"KPNA2","b":"CDC20","v":0.805},{"a":"KPNA2","b":"MAD2L1","v":0.865},{"a":"KPNA2","b":"KIF11","v":0.83},{"a":"KPNA2","b":"CENPA","v":0.835},{"a":"KPNA2","b":"PCNA","v":0.81},{"a":"KPNA2","b":"EZH2","v":0.84},{"a":"KPNA2","b":"KIF23","v":0.85},{"a":"KPNA2","b":"TOP2A","v":0.81},{"a":"KPNA2","b":"UBE2C","v":0.865},{"a":"KPNA2","b":"BIRC5","v":0.81},{"a":"KPNA2","b":"KIF2C","v":0.825},{"a":"KPNA2","b":"RRM2","v":0.875},{"a":"KPNA2","b":"RACGAP1","v":0.83},{"a":"KPNA2","b":"KIF4A","v":0.81},{"a":"KPNA2","b":"KPNA2","v":1},{"a":"KPNA2","b":"TYMS","v":0.79},{"a":"KPNA2","b":"RRM1","v":0.70},
{"a":"TYMS","b":"CDK1","v":0.85},{"a":"TYMS","b":"CCNB1","v":0.82},{"a":"TYMS","b":"CCNA2","v":0.85},{"a":"TYMS","b":"CDC20","v":0.865},{"a":"TYMS","b":"MAD2L1","v":0.875},{"a":"TYMS","b":"KIF11","v":0.865},{"a":"TYMS","b":"CENPA","v":0.845},{"a":"TYMS","b":"PCNA","v":0.81},{"a":"TYMS","b":"EZH2","v":0.86},{"a":"TYMS","b":"KIF23","v":0.865},{"a":"TYMS","b":"TOP2A","v":0.775},{"a":"TYMS","b":"UBE2C","v":0.85},{"a":"TYMS","b":"BIRC5","v":0.77},{"a":"TYMS","b":"KIF2C","v":0.845},{"a":"TYMS","b":"RRM2","v":0.82},{"a":"TYMS","b":"RACGAP1","v":0.83},{"a":"TYMS","b":"KIF4A","v":0.83},{"a":"TYMS","b":"KPNA2","v":0.79},{"a":"TYMS","b":"TYMS","v":1},{"a":"TYMS","b":"RRM1","v":0.67},
{"a":"RRM1","b":"CDK1","v":0.79},{"a":"RRM1","b":"CCNB1","v":0.73},{"a":"RRM1","b":"CCNA2","v":0.66},{"a":"RRM1","b":"CDC20","v":0.63},{"a":"RRM1","b":"MAD2L1","v":0.73},{"a":"RRM1","b":"KIF11","v":0.725},{"a":"RRM1","b":"CENPA","v":0.715},{"a":"RRM1","b":"PCNA","v":0.765},{"a":"RRM1","b":"EZH2","v":0.595},{"a":"RRM1","b":"KIF23","v":0.695},{"a":"RRM1","b":"TOP2A","v":0.595},{"a":"RRM1","b":"UBE2C","v":0.69},{"a":"RRM1","b":"BIRC5","v":0.568},{"a":"RRM1","b":"KIF2C","v":0.635},{"a":"RRM1","b":"RRM2","v":0.69},{"a":"RRM1","b":"RACGAP1","v":0.63},{"a":"RRM1","b":"KIF4A","v":0.615},{"a":"RRM1","b":"KPNA2","v":0.70},{"a":"RRM1","b":"TYMS","v":0.67},{"a":"RRM1","b":"RRM1","v":1}
      ]},
      "mark": {"type": "rect"},
      "encoding": {
        "x": {
          "field": "b", "type": "nominal",
          "sort": ["CDK1","CCNB1","CCNA2","CDC20","MAD2L1","KIF11","CENPA","PCNA","EZH2","KIF23","TOP2A","UBE2C","BIRC5","KIF2C","RRM2","RACGAP1","KIF4A","KPNA2","TYMS","RRM1"],
          "scale": {"paddingInner": 0, "paddingOuter": 0},
          "axis": {"orient": "bottom", "labelAngle": -90, "labelAlign": "right", "labelBaseline": "middle", "labelFont": "Liberation Serif", "labelFontStyle": "italic", "labelFontWeight": "bold", "labelFontSize": 15, "labelColor": "black", "labelPadding": 3, "labelOverlap": false, "tickSize": 6, "tickWidth": 1.5, "tickColor": "black", "domain": false, "title": "(B)", "titleFont": "Liberation Serif", "titleFontWeight": "normal", "titleFontSize": 16, "titleColor": "#1a1a1a", "titlePadding": 21}
        },
        "y": {
          "field": "a", "type": "nominal",
          "sort": ["CDK1","CCNB1","CCNA2","CDC20","MAD2L1","KIF11","CENPA","PCNA","EZH2","KIF23","TOP2A","UBE2C","BIRC5","KIF2C","RRM2","RACGAP1","KIF4A","KPNA2","TYMS","RRM1"],
          "scale": {"paddingInner": 0, "paddingOuter": 0},
          "axis": {"labelFont": "Liberation Serif", "labelFontStyle": "italic", "labelFontWeight": "bold", "labelFontSize": 15, "labelColor": "black", "labelPadding": 3, "labelOverlap": false, "tickSize": 6, "tickWidth": 1.5, "tickColor": "black", "domain": false, "title": null, "minExtent": 88, "maxExtent": 88}
        },
        "color": {
          "field": "v", "type": "quantitative",
          "scale": {"domain": [0.568, 1], "range": ["#ffffff", "#0000ff"], "interpolate": "rgb"},
          "legend": {"type": "gradient", "direction": "vertical", "orient": "none", "legendX": 517, "legendY": 76, "title": null, "padding": 0, "gradientLength": 354, "gradientThickness": 27, "gradientStrokeColor": "black", "gradientStrokeWidth": 1.5, "tickCount": 5, "format": ".1f", "labelFont": "Liberation Serif", "labelFontWeight": "bold", "labelFontSize": 15, "labelColor": "#1a1a1a", "labelOffset": 6, "labelBaseline": "middle"}
        }
      }
    }
  ]
}
